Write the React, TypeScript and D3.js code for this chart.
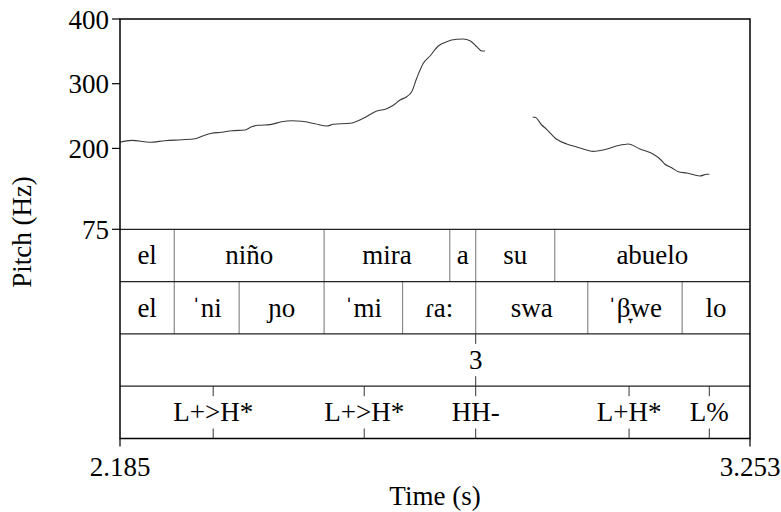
import React from "react";
import * as d3 from "d3";

// time domain of the window (s)
const timeRange = [2.185, 3.253];
const pitchTicks = [75, 200, 300, 400];

// pitch track, NaN marks the unvoiced gap
const pitchTimes = [
  2.185, 2.2048, 2.2359, 2.2613, 2.2896, 2.3121, 2.3262, 2.3404, 2.3574, 2.3744,
  2.3969, 2.4083, 2.4194, 2.4393, 2.4591, 2.4761, 2.493, 2.5156, 2.5354, 2.5466,
  2.5749, 2.5974, 2.6202, 2.6371, 2.6483, 2.6597, 2.671, 2.6795, 2.688, 2.6992,
  2.7105, 2.7246, 2.7388, 2.7558, 2.767, 2.7783, 2.7897, 2.7982, 2.8037,
  2.85,
  2.8846, 2.8885, 2.8999, 2.9083, 2.9253, 2.9423, 2.9592, 2.9761, 2.9873, 3.0043,
  3.027, 3.0467, 3.0665, 3.0863, 3.1004, 3.1089, 3.1203, 3.1314, 3.1457, 3.1682,
  3.1796, 3.184,
];
const pitchHz = [
  209.5, 212.5, 209.5, 211.9, 213.5, 215, 219.7, 223.4, 224.9, 227.4,
  228.5, 233.6, 235.7, 236.7, 241.3, 242.8, 241.9, 238.2, 234.6, 237.3,
  238.8, 246.5, 257.8, 261.4, 266.6, 274.8, 279.9, 287.6, 308.4, 331.5,
  342.8, 358.3, 364.9, 368.6, 369.1, 366.5, 357.2, 350.5, 350.5,
  NaN,
  248.1, 248.1, 236.2, 229.5, 214.1, 206.8, 202.2, 197.6, 195.5, 197.6,
  203.7, 206.8, 199.1, 192.5, 183.6, 175.5, 170.2, 164, 162, 157.4,
  160, 160,
];

// interval tiers
const wordBounds = [2.185, 2.277, 2.531, 2.744, 2.788, 2.922, 3.253];
const wordLabels = ["el", "niño", "mira", "a", "su", "abuelo"];
const syllBounds = [2.185, 2.277, 2.387, 2.531, 2.664, 2.788, 2.978, 3.138, 3.253];
const syllLabels = ["el", "ˈni", "ɲo", "ˈmi", "ɾa:", "swa", "ˈβ̞we", "lo"];

// point tiers
const breakTimes = [2.788];
const breakLabels = ["3"];
const toneTimes = [2.343, 2.599, 2.788, 3.048, 3.184];
const toneLabels = ["L+>H*", "L+>H*", "HH-", "L+H*", "L%"];

const W = 781;
const H = 512;
const left = 120;
const right = 750;
const top = 19;
const pitchBottom = 229.3;
const tierH = 52.3;
const nTiers = 4;
const bottom = pitchBottom + tierH * nTiers;
const font = "'Liberation Serif', 'Times New Roman', serif";
const fs = 27;

const App = () => {
  const x = d3.scaleLinear().domain(timeRange).range([left, right]);
  const y = d3.scaleLinear().domain([75, 400]).range([pitchBottom, top]);
  const line = d3
    .line<number>()
    .defined((d) => !isNaN(d))
    .curve(d3.curveMonotoneX)
    .x((d, i) => x(pitchTimes[i]))
    .y((d) => y(d));

  const tierTop = (k: number) => pitchBottom + tierH * k;

  const intervalTier = (k: number, bounds: number[], labels: string[]) => (
    <g key={"t" + k}>
      {bounds.slice(1, -1).map((b, i) => (
        <line key={i} x1={x(b)} x2={x(b)} y1={tierTop(k)} y2={tierTop(k + 1)} stroke="#8a8a8a" strokeWidth={1.2} />
      ))}
      {labels.map((l, i) => (
        <text key={"l" + i} x={(x(bounds[i]) + x(bounds[i + 1])) / 2} y={tierTop(k) + 35} textAnchor="middle">
          {l}
        </text>
      ))}
    </g>
  );

  const pointTier = (k: number, times: number[], labels: string[]) => (
    <g key={"t" + k}>
      {times.map((t, i) => (
        <g key={i}>
          <line x1={x(t)} x2={x(t)} y1={tierTop(k)} y2={tierTop(k) + 10} stroke="#333" strokeWidth={1} />
          <line x1={x(t)} x2={x(t)} y1={tierTop(k + 1) - 10} y2={tierTop(k + 1)} stroke="#333" strokeWidth={1} />
          <text x={x(t)} y={tierTop(k) + 35} textAnchor="middle">
            {labels[i]}
          </text>
        </g>
      ))}
    </g>
  );

  return (
    <svg width={W} height={H} style={{ position: "absolute", left: 0, top: 0 }} fontFamily={font} fontSize={fs} fill="#000">
      <rect width={W} height={H} fill="#fff" />
      <path d={line(pitchHz) || ""} fill="none" stroke="#3a3a3a" strokeWidth={1.1} />

      {intervalTier(0, wordBounds, wordLabels)}
      {intervalTier(1, syllBounds, syllLabels)}
      {pointTier(2, breakTimes, breakLabels)}
      {pointTier(3, toneTimes, toneLabels)}

      {/* tier separators */}
      {d3.range(nTiers).map((k) => (
        <line key={"s" + k} x1={left} x2={right} y1={tierTop(k)} y2={tierTop(k)} stroke="#222" strokeWidth={1.2} />
      ))}
      {/* frame */}
      <rect x={left} y={top} width={right - left} height={bottom - top} fill="none" stroke="#000" strokeWidth={1.5} />

      {/* pitch axis */}
      {pitchTicks.map((p) => (
        <g key={p}>
          <line x1={left - 8} x2={left} y1={y(p)} y2={y(p)} stroke="#000" strokeWidth={1.2} />
          <text x={left - 11} y={y(p) + 9.5} textAnchor="end">
            {p}
          </text>
        </g>
      ))}
      <text transform={`translate(31,232) rotate(-90)`} textAnchor="middle">
        Pitch (Hz)
      </text>

      {/* time axis */}
      {timeRange.map((t) => (
        <g key={t}>
          <line x1={x(t)} x2={x(t)} y1={bottom} y2={bottom + 8} stroke="#000" strokeWidth={1.2} />
          <text x={x(t)} y={bottom + 37} textAnchor="middle">
            {t.toFixed(3)}
          </text>
        </g>
      ))}
      <text x={(left + right) / 2} y={505} textAnchor="middle">
        Time (s)
      </text>
    </svg>
  );
};

export default App;
